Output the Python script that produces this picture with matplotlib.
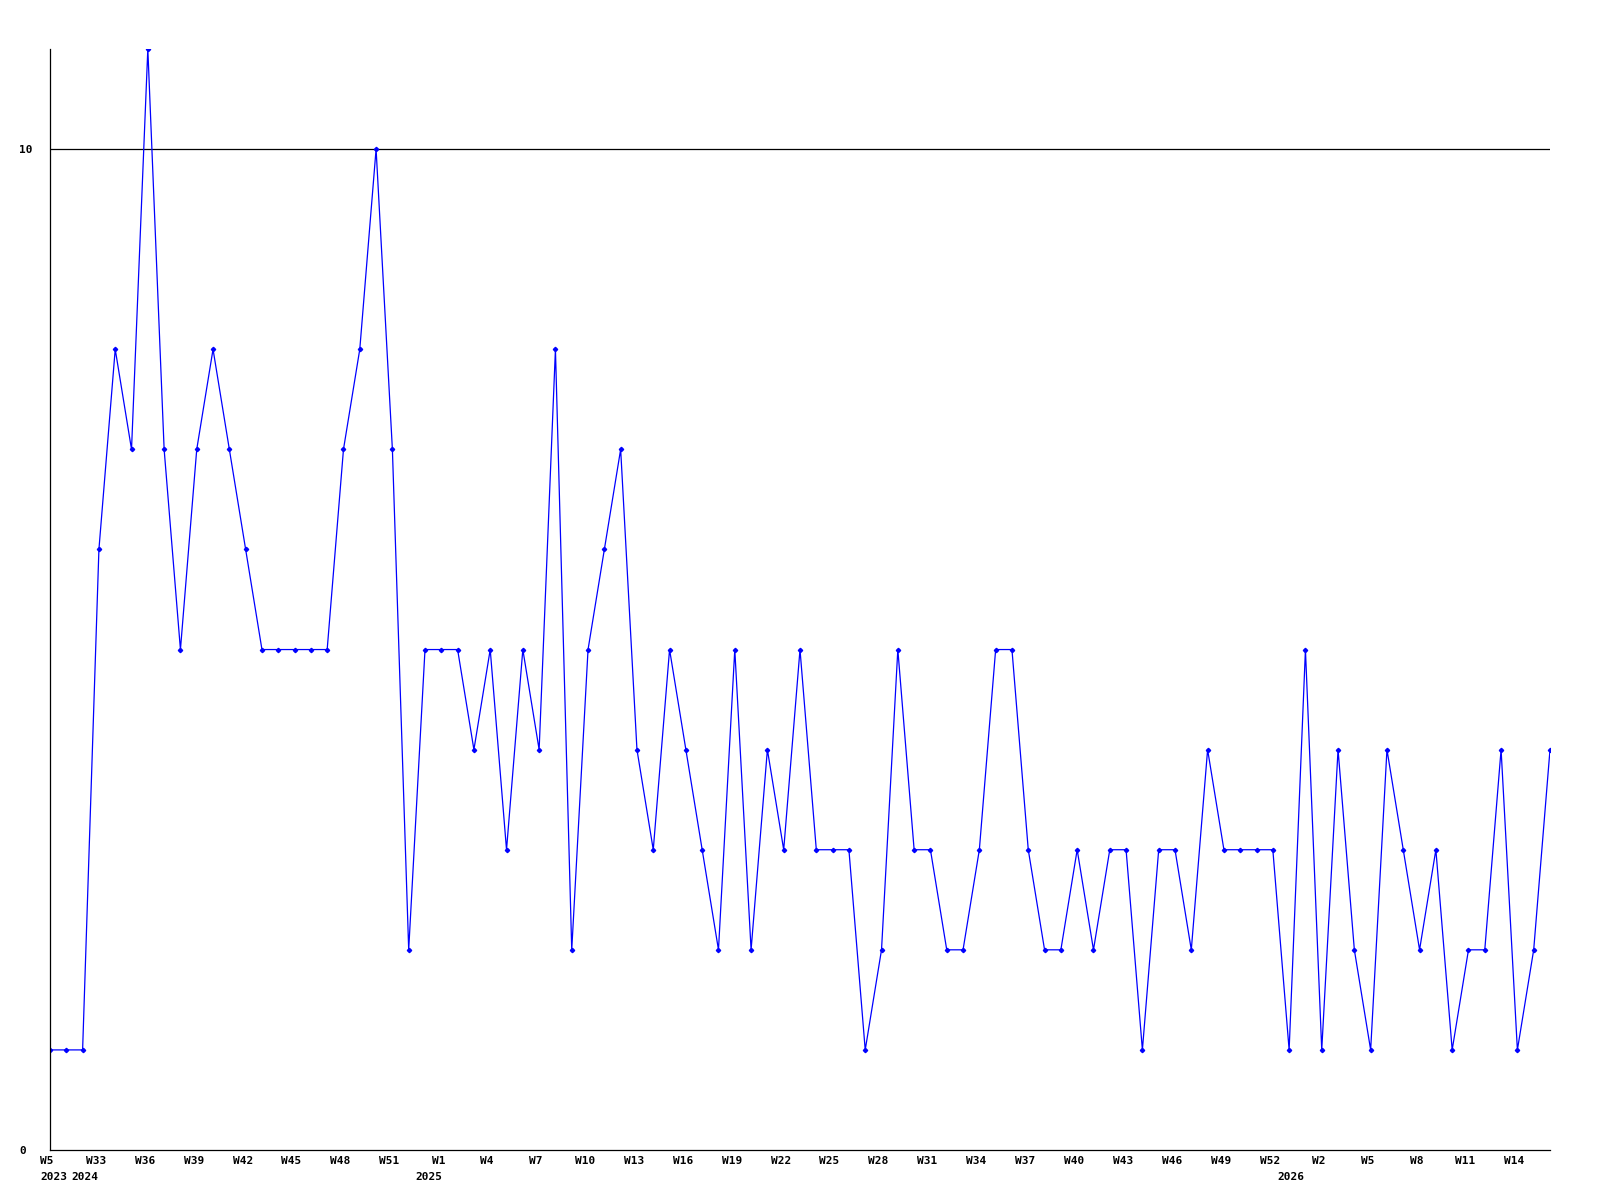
import numpy as np
import matplotlib
matplotlib.use("Agg")
import matplotlib.pyplot as plt
import matplotlib.transforms as mtransforms

# weekly counts, one point per week shown
values = [1, 1, 1, 6, 8, 7, 11, 7, 5, 7, 8, 7, 6, 5, 5, 5, 5, 5, 7, 8,
          10, 7, 2, 5, 5, 5, 4, 5, 3, 5, 4, 8, 2, 5, 6, 7, 4, 3, 5, 4,
          3, 2, 5, 2, 4, 3, 5, 3, 3, 3, 1, 2, 5, 3, 3, 2, 2, 3, 5, 5,
          3, 2, 2, 3, 2, 3, 3, 1, 3, 3, 2, 4, 3, 3, 3, 3, 1, 5, 1, 4,
          2, 1, 4, 3, 2, 3, 1, 2, 2, 4, 1, 2, 4]

week_labels = ["W5", "W33", "W36", "W39", "W42", "W45", "W48", "W51", "W1",
               "W4", "W7", "W10", "W13", "W16", "W19", "W22", "W25", "W28",
               "W31", "W34", "W37", "W40", "W43", "W46", "W49", "W52", "W2",
               "W5", "W8", "W11", "W14"]
year_labels = ["2023", "2024", "2025", "2026"]
year_pos = [0.4, 2.3, 23.4, 76.3]

x = np.arange(len(values))

fig = plt.figure(figsize=(16, 12), dpi=100)
ax = fig.add_axes([50 / 1600, 50 / 1200, 1500 / 1600, 1101 / 1200])

ax.axhline(10, color="black", lw=0.9, zorder=1)
ax.plot(x, values, color="#0000ff", lw=0.9, marker="D", ms=2.2, zorder=2)

ax.set_xlim(0, len(values) - 1)
ax.set_ylim(0, 11)

for s in ["top", "right"]:
    ax.spines[s].set_visible(False)
for s in ["left", "bottom"]:
    ax.spines[s].set_linewidth(0.9)

font = dict(family="DejaVu Sans Mono", weight="bold", size=8)

ax.set_yticks([0, 10])
ax.set_yticklabels(["0", "10"], fontdict=font, ha="left")
ax.tick_params(axis="y", length=0, pad=22)

ax.set_xticks(x[::3])
ax.set_xticklabels(week_labels, fontdict=font)
ax.tick_params(axis="x", length=0, pad=4)
shift = mtransforms.ScaledTranslation(-3 / 100, 0, fig.dpi_scale_trans)
for lab in ax.get_xticklabels():
    lab.set_transform(lab.get_transform() + shift)

trans = mtransforms.blended_transform_factory(ax.transData, ax.transAxes)
for yl, xp in zip(year_labels, year_pos):
    ax.text(xp, -27 / 1101, yl, transform=trans + shift, ha="center", va="center", **font)

fig.savefig("out.png", dpi=100)
